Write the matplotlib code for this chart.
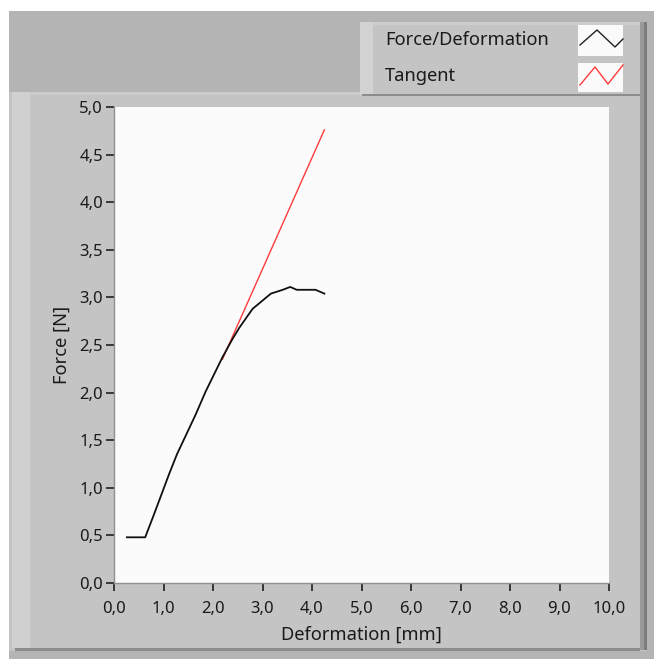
import matplotlib
matplotlib.use("Agg")
import matplotlib.pyplot as plt
from matplotlib.patches import Rectangle
from matplotlib.ticker import FuncFormatter, MultipleLocator

plt.rcParams['font.family'] = ['Noto Sans', 'DejaVu Sans']

# force / deformation curve (mm, N)
deform = [0.26, 0.63, 0.80, 1.11, 1.27, 1.65, 1.85, 2.19, 2.39, 2.53,
          2.80, 3.17, 3.41, 3.56, 3.69, 4.07, 4.25]
force = [0.48, 0.48, 0.71, 1.14, 1.35, 1.77, 2.01, 2.37, 2.56, 2.68,
         2.88, 3.04, 3.08, 3.11, 3.08, 3.08, 3.04]

# tangent line
tan_x = [2.19, 4.25]
tan_y = [2.35, 4.76]

legend_labels = ["Force/Deformation", "Tangent"]
x_label = "Deformation [mm]"
y_label = "Force [N]"

W, H = 654, 659
fig = plt.figure(figsize=(W / 100, H / 100), dpi=100)
fig.patch.set_facecolor("white")

# panel decoration in pixel coords
bg = fig.add_axes([0, 0, 1, 1], zorder=0)
bg.set_xlim(0, W)
bg.set_ylim(H, 0)
bg.axis("off")


def box(x0, y0, x1, y1, c):
    bg.add_patch(Rectangle((x0, y0), x1 - x0, y1 - y0, facecolor=c,
                           edgecolor="none"))


box(9, 11, W, H, "#b4b4b4")
box(9, 92, 647, 651, "#c4c4c4")
box(12, 92, 30, 648, "#d0d0d0")
box(30, 92, 640, 95, "#cccccc")
box(640, 22, 644, 650, "#9a9a9a")
box(644, 22, 647, 650, "#7c7c7c")
box(15, 648, 640, 651, "#8c8c8c")
# legend panel
box(360, 22, 640, 95, "#c4c4c4")
box(360, 22, 373, 95, "#d2d2d2")
box(373, 22, 640, 25, "#cdcdcd")
box(362, 94, 640, 96, "#8c8c8c")
box(578, 25, 623, 56, "#fafafa")
box(578, 63, 623, 92, "#fafafa")
bg.plot([580, 597, 615, 623], [45, 30, 47, 39], color="#202020", lw=1.0)
bg.plot([580, 595, 608, 623], [85, 67, 84, 65], color="#ff3a3a", lw=1.0)
bg.text(385, 40, legend_labels[0], fontsize=13.2, color="#1a1a1a",
        va="center", ha="left")
bg.text(385, 76, legend_labels[1], fontsize=13.2, color="#1a1a1a",
        va="center", ha="left")

# main plot
l, t, r, b = 114, 107, 609, 583
ax = fig.add_axes([l / W, 1 - b / H, (r - l) / W, (b - t) / H], zorder=2)
ax.set_facecolor("#fbfbfb")
ax.plot(tan_x, tan_y, color="#ff3a3a", lw=1.0)
ax.plot(deform, force, color="#101010", lw=1.3)
ax.set_xlim(0, 10)
ax.set_ylim(0, 5)
ax.xaxis.set_major_locator(MultipleLocator(1))
ax.yaxis.set_major_locator(MultipleLocator(0.5))
comma = FuncFormatter(lambda v, p: ("%.1f" % v).replace(".", ","))
ax.xaxis.set_major_formatter(comma)
ax.yaxis.set_major_formatter(comma)
ax.tick_params(axis="both", direction="out", length=6, width=1.2,
               color="#202020", labelsize=12, labelcolor="#1a1a1a", pad=2)
ax.tick_params(axis="x", pad=7)
for s in ["top", "right"]:
    ax.spines[s].set_visible(False)
for s in ["left", "bottom"]:
    ax.spines[s].set_color("#909090")
    ax.spines[s].set_linewidth(1.0)
ax.set_xlabel(x_label, fontsize=13.2, color="#1a1a1a", labelpad=6)
ax.set_ylabel(y_label, fontsize=13.2, color="#1a1a1a", labelpad=6)

fig.savefig("out.png", dpi=100)
